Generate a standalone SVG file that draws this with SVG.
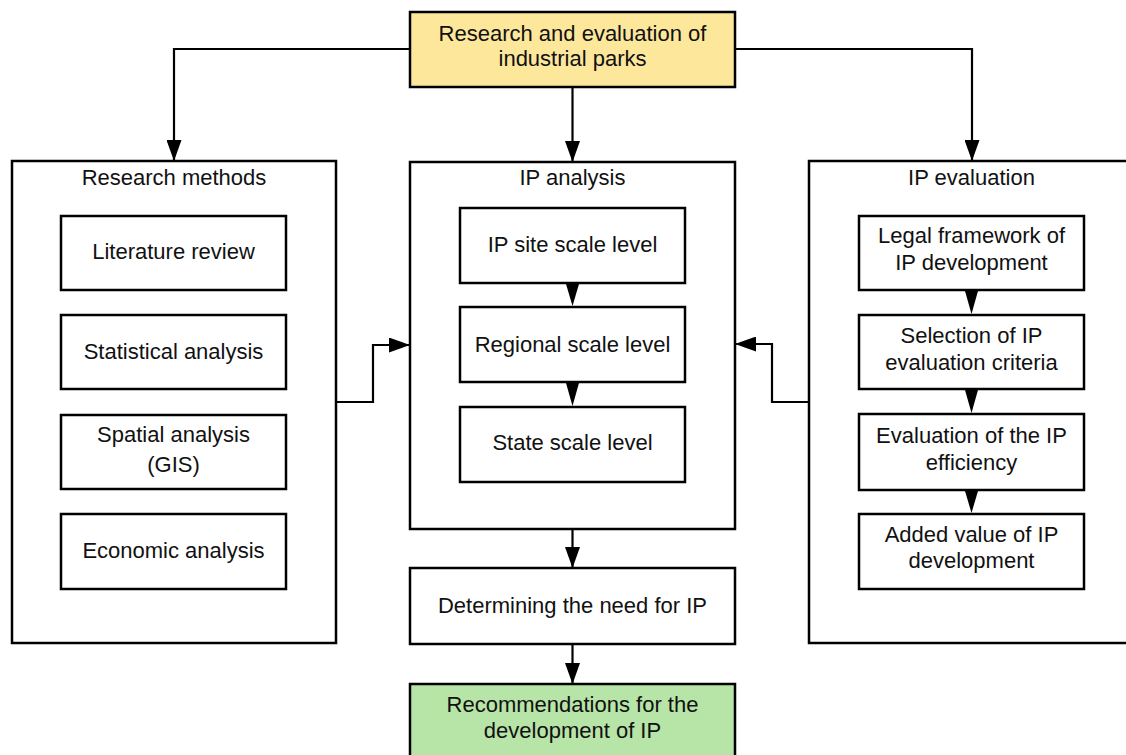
<svg xmlns="http://www.w3.org/2000/svg" width="1126" height="755" viewBox="0 0 1126 755">
<defs>
<marker id="arr" markerUnits="userSpaceOnUse" markerWidth="21" markerHeight="15" viewBox="0 0 21 15" refX="21" refY="7.5" orient="auto">
<path d="M0,0 L21,7.5 L0,15 Z" fill="#000"/>
</marker>
</defs>
<style>
rect{fill:#fff;stroke:#000;stroke-width:2.5}
.yellow{fill:#fde79b}
.green{fill:#b7e4a7}
text{font-family:"Liberation Sans",Arial,sans-serif;font-size:22px;fill:#111;text-anchor:middle}
.conn path{fill:none;stroke:#000;stroke-width:2.2}
.conn polygon{fill:#000}
</style>
<rect width="1126" height="755" style="fill:#fff;stroke:none"/>
<g id="top"><rect class="yellow" x="410" y="12" width="325" height="75"/><text x="572.5" y="40.5">Research and evaluation of</text><text x="572.5" y="66">industrial parks</text></g>
<g id="research-methods"><rect x="12" y="161" width="324" height="482"/><text x="174" y="185">Research methods</text></g>
<g id="literature"><rect x="61" y="216" width="225" height="74"/><text x="173.5" y="259">Literature review</text></g>
<g id="statistical"><rect x="61" y="315" width="225" height="74"/><text x="173.5" y="359">Statistical analysis</text></g>
<g id="spatial"><rect x="61" y="415" width="225" height="74"/><text x="173.5" y="442">Spatial analysis</text><text x="173.5" y="472">(GIS)</text></g>
<g id="economic"><rect x="61" y="514" width="225" height="75"/><text x="173.5" y="558">Economic analysis</text></g>
<g id="ip-analysis"><rect x="410" y="162" width="325" height="367"/><text x="572.5" y="185">IP analysis</text></g>
<g id="site"><rect x="460" y="208" width="225" height="75"/><text x="572.5" y="252">IP site scale level</text></g>
<g id="regional"><rect x="460" y="307" width="225" height="75"/><text x="572.5" y="352">Regional scale level</text></g>
<g id="state"><rect x="460" y="407" width="225" height="75"/><text x="572.5" y="450">State scale level</text></g>
<g id="ip-evaluation"><rect x="809" y="161" width="340" height="482"/><text x="971.5" y="185">IP evaluation</text></g>
<g id="legal"><rect x="859" y="216" width="225" height="74"/><text x="971.5" y="243">Legal framework of</text><text x="971.5" y="270">IP development</text></g>
<g id="selection"><rect x="859" y="315" width="225" height="74"/><text x="971.5" y="343">Selection of IP</text><text x="971.5" y="370">evaluation criteria</text></g>
<g id="efficiency"><rect x="859" y="414" width="225" height="76"/><text x="971.5" y="443">Evaluation of the IP</text><text x="971.5" y="470">efficiency</text></g>
<g id="added-value"><rect x="859" y="514" width="225" height="75"/><text x="971.5" y="542">Added value of IP</text><text x="971.5" y="568">development</text></g>
<g id="need"><rect x="410" y="568" width="325" height="76"/><text x="572.5" y="613">Determining the need for IP</text></g>
<g id="recommendations"><rect class="green" x="410" y="684" width="325" height="90"/><text x="572.5" y="712">Recommendations for the</text><text x="572.5" y="738">development of IP</text></g>
<g class="conn" id="connectors">
<path d="M410,49 H174 V161" marker-end="url(#arr)"/>
<path d="M735,49 H972 V161" marker-end="url(#arr)"/>
<path d="M572.5,87 V162" marker-end="url(#arr)"/>
<path d="M336,402 H373 V345 H410" marker-end="url(#arr)"/>
<path d="M809,402 H772 V344 H735" marker-end="url(#arr)"/>
<path d="M572.5,529 V568" marker-end="url(#arr)"/>
<path d="M572.5,644 V684" marker-end="url(#arr)"/>
<polygon points="566,284 579,284 572.5,306"/>
<polygon points="566,383 579,383 572.5,406"/>
<polygon points="965,291 978,291 971.5,314"/>
<polygon points="965,390 978,390 971.5,413"/>
<polygon points="965,491 978,491 971.5,513"/>
</g>
</svg>
